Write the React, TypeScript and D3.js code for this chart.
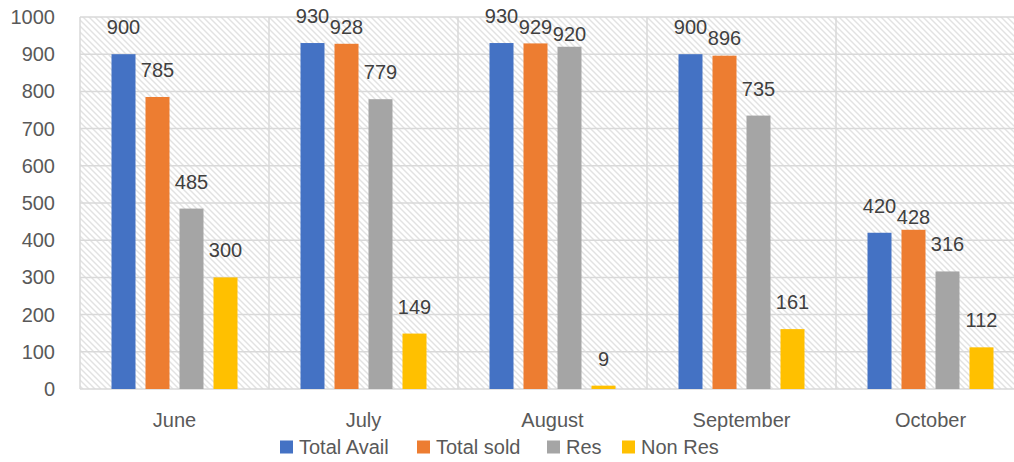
import { useEffect, useRef } from "react";
import * as d3 from "d3";

const months = ["June", "July", "August", "September", "October"];
const seriesNames = ["Total Avail", "Total sold", "Res", "Non Res"];
const totalAvail = [900, 930, 930, 900, 420];
const totalSold = [785, 928, 929, 896, 428];
const res = [485, 779, 920, 735, 316];
const nonRes = [300, 149, 9, 161, 112];
const yTicks = [0, 100, 200, 300, 400, 500, 600, 700, 800, 900, 1000];
const colors = ["#4472C4", "#ED7D31", "#A5A5A5", "#FFC000"];

export default function App() {
  const svgRef = useRef(null);

  useEffect(() => {
    const width = 1014;
    const height = 462;
    const left = 80;
    const top = 17;
    const bottom = 389;
    const bandW = 189;
    const font = "'Liberation Sans', Arial, sans-serif";

    const svg = d3.select(svgRef.current).attr("width", width).attr("height", height);
    svg.selectAll("*").remove();

    const values = [totalAvail, totalSold, res, nonRes];

    const x = d3
      .scaleBand()
      .domain(months)
      .range([left, left + bandW * months.length])
      .padding(0);
    const inner = d3
      .scaleBand()
      .domain(seriesNames)
      .range([x.bandwidth() / 6, (x.bandwidth() * 5) / 6])
      .paddingInner(10 / 34)
      .paddingOuter(0);
    const y = d3.scaleLinear().domain([0, 1000]).range([bottom, top]);

    // hatch pattern (wide downward diagonal)
    const defs = svg.append("defs");
    const pat = defs
      .append("pattern")
      .attr("id", "hatch")
      .attr("patternUnits", "userSpaceOnUse")
      .attr("width", 6)
      .attr("height", 6);
    pat.append("rect").attr("width", 6).attr("height", 6).attr("fill", "#fff");
    pat
      .append("path")
      .attr("d", "M-1,-1 L7,7 M-4,2 L2,8 M4,-2 L8,2")
      .attr("stroke", "#e2e2e2")
      .attr("stroke-width", 1.4);

    const plotRight = x.range()[1];
    svg
      .append("rect")
      .attr("x", left)
      .attr("y", top)
      .attr("width", plotRight - left)
      .attr("height", bottom - top)
      .attr("fill", "url(#hatch)");

    // grid
    svg
      .append("g")
      .selectAll("line")
      .data(yTicks)
      .join("line")
      .attr("x1", left)
      .attr("x2", plotRight)
      .attr("y1", (d) => y(d))
      .attr("y2", (d) => y(d))
      .attr("stroke", "#d9d9d9")
      .attr("stroke-width", 1.5);

    svg
      .append("g")
      .selectAll("line")
      .data(months)
      .join("line")
      .attr("x1", (d) => x(d))
      .attr("x2", (d) => x(d))
      .attr("y1", top)
      .attr("y2", bottom)
      .attr("stroke", "#d9d9d9")
      .attr("stroke-width", 1.5);

    // y labels
    svg
      .append("g")
      .selectAll("text")
      .data(yTicks)
      .join("text")
      .attr("x", 55)
      .attr("y", (d) => y(d))
      .attr("dy", "0.35em")
      .attr("text-anchor", "end")
      .attr("font-family", font)
      .attr("font-size", 20)
      .attr("fill", "#595959")
      .text((d) => d);

    // bars
    const groups = svg
      .append("g")
      .selectAll("g")
      .data(months)
      .join("g")
      .attr("transform", (d) => `translate(${x(d)},0)`);

    groups
      .selectAll("rect")
      .data((m, i) => seriesNames.map((s, k) => ({ s, k, v: values[k][i] })))
      .join("rect")
      .attr("x", (d) => inner(d.s))
      .attr("y", (d) => y(d.v))
      .attr("width", inner.bandwidth())
      .attr("height", (d) => bottom - y(d.v))
      .attr("fill", (d) => colors[d.k]);

    // data labels, nudged down a bit when they would collide
    months.forEach((m, i) => {
      let prev = -Infinity;
      seriesNames.forEach((s, k) => {
        const v = values[k][i];
        const barTop = y(v);
        let cy = barTop - 27;
        cy = Math.max(cy, prev + 11);
        cy = Math.min(cy, barTop - 13);
        prev = cy;
        svg
          .append("text")
          .attr("x", x(m) + inner(s) + inner.bandwidth() / 2)
          .attr("y", cy)
          .attr("dy", "0.35em")
          .attr("text-anchor", "middle")
          .attr("font-family", font)
          .attr("font-size", 20)
          .attr("fill", "#404040")
          .text(v);
      });
    });

    // x labels
    svg
      .append("g")
      .selectAll("text")
      .data(months)
      .join("text")
      .attr("x", (d) => x(d) + x.bandwidth() / 2)
      .attr("y", 420)
      .attr("dy", "0.35em")
      .attr("text-anchor", "middle")
      .attr("font-family", font)
      .attr("font-size", 20)
      .attr("fill", "#595959")
      .text((d) => d);

    // legend
    const legendX = [280, 417, 547, 622];
    const leg = svg
      .append("g")
      .selectAll("g")
      .data(seriesNames)
      .join("g")
      .attr("transform", (d, k) => `translate(${legendX[k]},447)`);
    leg
      .append("rect")
      .attr("x", 0)
      .attr("y", -6.5)
      .attr("width", 13)
      .attr("height", 13)
      .attr("fill", (d, k) => colors[k]);
    leg
      .append("text")
      .attr("x", 19)
      .attr("y", 0)
      .attr("dy", "0.35em")
      .attr("font-family", font)
      .attr("font-size", 20)
      .attr("fill", "#595959")
      .text((d) => d);
  }, []);

  return (
    <svg
      ref={svgRef}
      style={{ position: "absolute", left: 0, top: 0, display: "block" }}
    ></svg>
  );
}
